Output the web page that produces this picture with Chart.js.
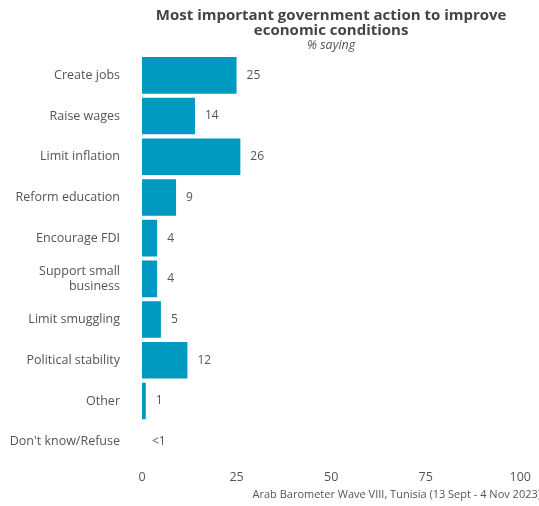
<!DOCTYPE html>
<html>
<head>
<meta charset="utf-8">
<script src="https://cdn.jsdelivr.net/npm/chart.js@4"></script>
<style>
  html, body { margin: 0; padding: 0; background: #fff; }
  #wrap { width: 539px; height: 506px; position: relative; }
</style>
</head>
<body>
<div id="wrap"><canvas id="chart"></canvas></div>
<script>
const categories = ['Create jobs', 'Raise wages', 'Limit inflation', 'Reform education', 'Encourage FDI',
    ['Support small', 'business'], 'Limit smuggling', 'Political stability', 'Other', "Don't know/Refuse"];
const values = [25, 14, 26, 9, 4, 4, 5, 12, 1, 0];
const valueLabels = ['25', '14', '26', '9', '4', '4', '5', '12', '1', '<1'];
const xTicks = [0, 25, 50, 75, 100];

const FONT = "'Open Sans', sans-serif";
const TEXT = '#555';

const decorPlugin = {
    id: 'decor',
    afterDatasetsDraw(chart) {
        const {ctx, chartArea} = chart;
        const meta = chart.getDatasetMeta(0);
        ctx.save();
        ctx.fillStyle = TEXT;
        ctx.font = '12px ' + FONT;
        ctx.textAlign = 'left';
        ctx.textBaseline = 'middle';
        meta.data.forEach((bar, i) => {
            ctx.fillText(valueLabels[i], bar.x + 10, bar.y);
        });
        const cx = (chartArea.left + chartArea.right) / 2;
        ctx.textAlign = 'center';
        ctx.fillStyle = '#444';
        ctx.font = 'bold 15px ' + FONT;
        ctx.fillText('Most important government action to improve', cx, 16);
        ctx.fillText('economic conditions', cx, 31);
        ctx.fillStyle = TEXT;
        ctx.font = 'italic 12.5px ' + FONT;
        ctx.fillText('% saying', cx, 45);
        ctx.textAlign = 'right';
        ctx.font = '11px ' + FONT;
        ctx.fillText('Arab Barometer Wave VIII, Tunisia (13 Sept - 4 Nov 2023)', chart.width + 2, 495);
        ctx.restore();
    }
};

new Chart(document.getElementById('chart'), {
    type: 'bar',
    data: {
        labels: categories,
        datasets: [{
            data: values,
            backgroundColor: '#0099bf',
            borderWidth: 0,
            barPercentage: 0.9,
            categoryPercentage: 1
        }]
    },
    options: {
        indexAxis: 'y',
        responsive: true,
        maintainAspectRatio: false,
        animation: false,
        layout: { padding: { top: 55, right: 18, bottom: 14, left: 0 } },
        plugins: {
            legend: { display: false },
            tooltip: { enabled: false }
        },
        scales: {
            x: {
                min: 0,
                max: 100,
                afterBuildTicks: s => { s.ticks = xTicks.map(v => ({ value: v })); },
                afterFit: s => { s.height = 30; },
                grid: { display: false, drawTicks: false },
                border: { display: false },
                ticks: { color: TEXT, font: { family: FONT, size: 12.5 }, padding: 8 }
            },
            y: {
                afterFit: s => { s.width = 142; },
                grid: { display: false, drawTicks: false },
                border: { display: false },
                ticks: { color: TEXT, font: { family: FONT, size: 12.5 }, padding: 22 }
            }
        }
    },
    plugins: [decorPlugin]
});
</script>
</body>
</html>
